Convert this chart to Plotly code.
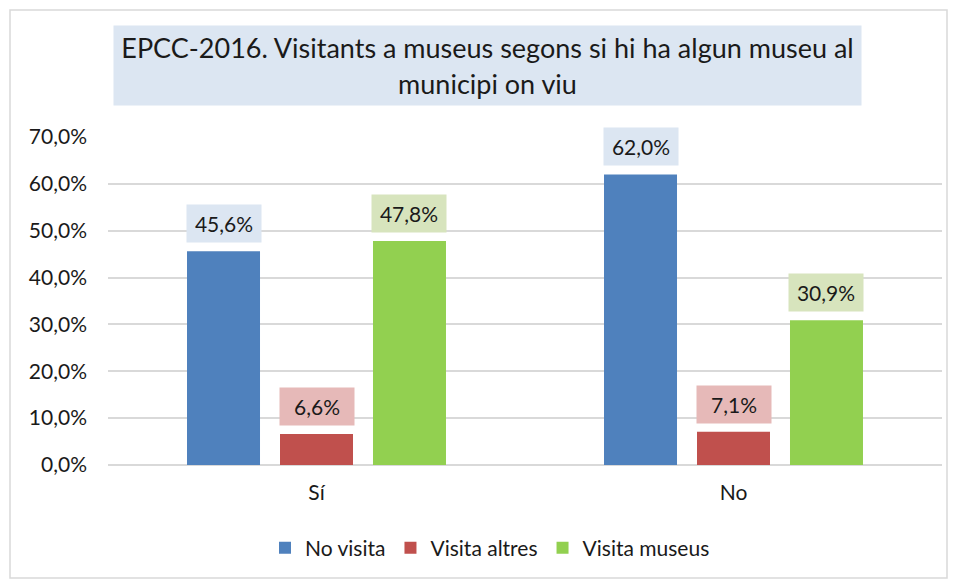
import plotly.graph_objects as go

categories = ["Sí", "No"]
series_names = ["No visita", "Visita altres", "Visita museus"]
no_visita = [45.6, 62.0]
visita_altres = [6.6, 7.1]
visita_museus = [47.8, 30.9]
tick_vals = [0, 10, 20, 30, 40, 50, 60, 70]
tick_text = ["0,0%", "10,0%", "20,0%", "30,0%", "40,0%", "50,0%", "60,0%", "70,0%"]

series_values = [no_visita, visita_altres, visita_museus]
bar_colors = ["#4f81bd", "#c0504d", "#92d050"]
label_bg = ["#dce6f2", "#e6b9b8", "#d7e4bd"]

FONT = "Lato, Noto Sans, sans-serif"

W, H = 957, 581
L, R, T, B = 108, 15, 137, 116
pw = W - L - R
ph = H - T - B

fig = go.Figure()
for name, vals, col in zip(series_names, series_values, bar_colors):
    fig.add_trace(go.Bar(x=categories, y=vals, name=name, marker_color=col,
                         marker_line_width=0))

bargap = 0.331
slot_px = pw / len(categories) * (1 - bargap) / 3
annotations = []
for i, (vals, bg) in enumerate(zip(series_values, label_bg)):
    for c, v in zip(categories, vals):
        annotations.append(dict(
            x=c, y=v, xref="x", yref="y", text=f"{v:.1f}%".replace(".", ","),
            showarrow=False, xshift=(i - 1) * slot_px, yshift=8,
            yanchor="bottom", bgcolor=bg, borderpad=6, width=62, height=25,
            font=dict(size=21, color="#1a1a1a", family=FONT)))

# Title box
annotations.append(dict(
    x=(487.5 - L) / pw, y=(H - B - 65.5) / ph, xref="paper", yref="paper",
    text="EPCC-2016. Visitants a museus segons si hi ha algun museu al<br>municipi on viu",
    showarrow=False, bgcolor="#dce6f2", width=745, height=77, align="center",
    xanchor="center", yanchor="middle",
    font=dict(size=27, color="#1a1a1a", family=FONT)))

fig.update_layout(
    width=W, height=H,
    margin=dict(l=L, r=R, t=T, b=B, autoexpand=False),
    paper_bgcolor="white", plot_bgcolor="white",
    barmode="group", bargap=bargap, bargroupgap=0.215,
    font=dict(family=FONT, size=21, color="#1a1a1a"),
    showlegend=True,
    legend=dict(orientation="h", x=(490 - L) / pw, xanchor="center",
                y=(H - B - 548) / ph, yanchor="middle",
                font=dict(size=21, family=FONT), itemwidth=30,
                traceorder="normal"),
    annotations=annotations,
    shapes=[dict(type="rect", xref="paper", yref="paper",
                 x0=(10 - L) / pw, x1=(947 - L) / pw,
                 y0=(H - B - 578) / ph, y1=(H - B - 10) / ph,
                 line=dict(color="#d9d9d9", width=1.5), fillcolor="rgba(0,0,0,0)",
                 layer="below")],
)
fig.update_yaxes(range=[0, 70], tickvals=tick_vals, ticktext=tick_text,
                 showgrid=True, gridcolor="#d9d9d9", gridwidth=1.5,
                 zeroline=True, zerolinecolor="#d9d9d9", zerolinewidth=1.5,
                 showline=False, ticks="", ticklabelstandoff=20,
                 tickfont=dict(size=21, family=FONT))
fig.update_xaxes(showline=False, ticks="", tickfont=dict(size=21, family=FONT),
                 ticklabelstandoff=13)

fig.write_html("out.html", config={"displayModeBar": False},
               post_script="document.body.style.margin='0';document.body.style.padding='0';")
